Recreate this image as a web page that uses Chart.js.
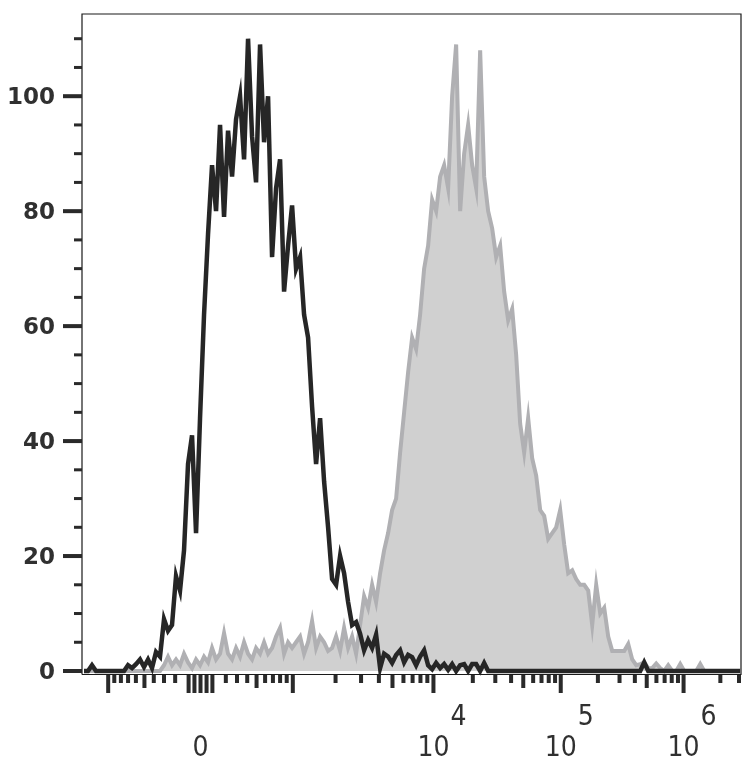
<!DOCTYPE html>
<html>
<head>
<meta charset="utf-8">
<script src="https://cdn.jsdelivr.net/npm/chart.js@4"></script>
<style>
  html, body { margin: 0; padding: 0; background: #ffffff; }
  #wrap { width: 756px; height: 773px; }
</style>
</head>
<body>
<div id="wrap"><canvas id="histChart" width="756" height="773"></canvas></div>
<script>
// Histogram bins on the display (biexponential) axis, in decades
const binStart = -0.955;
const binWidth = 0.0328;

// Unstained / isotype control (black outline)
const controlCounts = [
    0, 0, 1, 0, 0, 0, 0, 0, 0, 0, 0,
    1, 0.5, 1.2, 2, 0.7, 2, 0.5, 3.3, 2.5, 9,
    7, 8, 16.5, 14, 21, 36, 41, 24, 44, 62,
    76, 88, 80, 95, 79, 94, 86, 96, 100, 89,
    110, 93, 85, 109, 92, 100, 72, 84, 89, 66,
    74, 81, 70, 72, 62, 58, 46, 36, 44, 33,
    25, 16, 15, 20, 17, 12, 8, 8.5, 6.5, 3.6,
    5.4, 4, 6.3, 0.5, 3, 2.5, 1.4, 2.8, 3.6, 1.5,
    2.8, 2.4, 1, 2.5, 3.6, 1, 0.3, 1.4, 0.5, 1.2,
    0.2, 1.2, 0, 1, 1.2, 0, 1.2, 1.2, 0, 1.4,
    0,
    0, 0, 0, 0, 0, 0, 0, 0, 0, 0,
    0, 0, 0, 0, 0, 0, 0, 0, 0, 0,
    0, 0, 0, 0, 0, 0, 0, 0, 0, 0,
    0, 0, 0, 0, 0, 0, 0, 0,
    1.5,
    0, 0, 0, 0, 0, 0, 0, 0, 0, 0,
    0, 0, 0, 0, 0, 0, 0, 0, 0, 0,
    0, 0, 0, 0
];

// Stained sample (grey filled)
const stainedCounts = [
    0, 0, 0, 0, 0, 0, 0, 0, 0, 0,
    0, 0, 0, 0, 0, 0, 0, 0, 0, 0,
    1, 2.5, 1, 2, 1, 3, 1.5, 0.5, 2, 1,
    2.5, 1.5, 4, 2, 3, 6.6, 3, 2, 4, 2.5,
    5, 3, 2, 4, 3, 5, 3, 4, 6, 7.5,
    3, 5, 4, 5, 6, 3, 5, 8.7, 4, 6,
    5, 3.5, 4, 6, 3.5, 7.5, 4, 6, 3, 8,
    13, 11, 15, 12, 17, 21, 24, 28, 30, 38,
    45, 52, 58, 56, 62, 70, 74, 82, 80, 86,
    88, 84, 100, 109, 80, 90, 95, 88, 84, 108,
    86, 80, 77, 72, 74, 66, 61, 63, 55, 43,
    38, 44, 37, 34, 28, 27, 23, 24, 25, 28,
    22, 17, 17.5, 16, 15, 15, 14, 8, 15, 10,
    11, 6, 3.5, 3.5, 3.5, 3.5, 4.7, 2, 1, 1.2,
    1.5, 0.5, 0.5, 1.3, 0.5, 0, 1, 0, 0, 1.2,
    0, 0, 0, 0, 1.2, 0, 0, 0, 0, 0,
    0, 0, 0, 0, 0
];

// Axis ticks (raw fluorescence values)
const xLabelValues = [0, 1e4, 1e5, 1e6];
const xLabelExponents = ['', '4', '5', '6'];
const xMajorTicks = [-1000, -90, -45, 0, 45, 90, 1000, 1e4, 1e5, 1e6];
const xMediumTicks = [-500, 500, 5000, 5e4, 5e5];
const xMinorTicks = [
    -900, -800, -700, -600, -400, -300, -200,
    200, 300, 400, 600, 700, 800, 900,
    2000, 3000, 4000, 6000, 7000, 8000, 9000,
    2e4, 3e4, 4e4, 6e4, 7e4, 8e4, 9e4,
    2e5, 3e5, 4e5, 6e5, 7e5, 8e5, 9e5,
    2e6, 3e6
];
const yLabelValues = [0, 20, 40, 60, 80, 100];
const yMinorTicks = [5, 10, 15, 25, 30, 35, 45, 50, 55, 65, 70, 75, 85, 90, 95, 105, 110];

// Biexponential transform: raw value <-> display decades
const biexA = 109.5;
const biexB = 640;

function biexRaw(d) {
    const a = Math.abs(d);
    return Math.sign(d) * (biexA * (Math.pow(10, a) - 1) + biexB * a);
}

function toDisplay(v) {
    const target = Math.abs(v);
    let lo = 0, hi = 8;
    for (let i = 0; i < 60; i++) {
        const mid = (lo + hi) / 2;
        if (biexRaw(mid) < target) lo = mid; else hi = mid;
    }
    return Math.sign(v) * (lo + hi) / 2;
}

function toPoints(counts) {
    return counts.map((c, i) => ({ x: binStart + i * binWidth, y: c }));
}

const INK = '#2a2a2a';
const Y_FONT = 'bold 23px "DejaVu Sans", sans-serif';
const X_FONT = '28px "Liberation Sans Narrow", "DejaVu Sans Condensed", "Liberation Sans", sans-serif';

// Frame, ticks and labels drawn from the chart's own scales
const axesPlugin = {
    id: 'flowAxes',
    beforeDatasetsDraw(chart) {
        const { ctx, chartArea: a } = chart;
        ctx.save();
        ctx.strokeStyle = '#1a1a1a';
        ctx.lineWidth = 1.2;
        ctx.beginPath();
        ctx.moveTo(a.left, a.bottom + 3.5);
        ctx.lineTo(a.left, a.top);
        ctx.lineTo(a.right, a.top);
        ctx.lineTo(a.right, a.bottom + 3.5);
        ctx.lineTo(a.left, a.bottom + 3.5);
        ctx.stroke();
        ctx.restore();
    },
    afterDatasetsDraw(chart) {
        const { ctx, chartArea: a, scales } = chart;
        const xs = scales.x, ys = scales.y;
        ctx.save();
        ctx.fillStyle = INK;

        // y ticks
        yLabelValues.forEach(v => {
            const py = ys.getPixelForValue(v);
            ctx.fillRect(a.left - 19, py - 2, 19, 4);
        });
        yMinorTicks.forEach(v => {
            const py = ys.getPixelForValue(v);
            ctx.fillRect(a.left - 8, py - 1.5, 8, 3);
        });
        ctx.font = Y_FONT;
        ctx.fillStyle = '#303030';
        ctx.textAlign = 'right';
        ctx.textBaseline = 'middle';
        yLabelValues.forEach(v => {
            const py = ys.getPixelForValue(v);
            ctx.fillText(String(v), a.left - 27, py + 2);
        });

        // x ticks
        ctx.fillStyle = INK;
        const y0 = a.bottom + 4;
        const drawXTicks = (list, len) => {
            list.forEach(v => {
                const d = toDisplay(v);
                if (d < xs.min - 0.01 || d > xs.max + 0.02) return;
                const px = Math.min(xs.getPixelForValue(d), a.right - 2);
                ctx.fillRect(px - 2, y0, 4, len);
            });
        };
        drawXTicks(xMinorTicks, 8);
        drawXTicks(xMediumTicks, 13);
        drawXTicks(xMajorTicks, 18);

        // x labels: 0, 10^4, 10^5, 10^6
        ctx.fillStyle = '#303030';
        ctx.font = X_FONT;
        ctx.textBaseline = 'alphabetic';
        xLabelValues.forEach((v, i) => {
            const px = xs.getPixelForValue(toDisplay(v));
            const exp = xLabelExponents[i];
            const base = exp ? '10' : '0';
            ctx.textAlign = 'center';
            ctx.fillText(base, px, 756);
            if (exp) {
                const w = ctx.measureText(base).width;
                ctx.textAlign = 'left';
                ctx.fillText(exp, px + w / 2 + 1, 725);
            }
        });
        ctx.restore();
    }
};

new Chart(document.getElementById('histChart'), {
    type: 'line',
    data: {
        datasets: [
            {
                label: 'Control',
                data: toPoints(controlCounts),
                borderColor: '#262626',
                borderWidth: 4.5,
                fill: false,
                pointRadius: 0,
                tension: 0,
                order: 0,
                clip: false
            },
            {
                label: 'Stained',
                data: toPoints(stainedCounts),
                borderColor: '#b0b0b3',
                backgroundColor: '#d0d0d0',
                borderWidth: 4,
                fill: 'origin',
                pointRadius: 0,
                tension: 0,
                order: 1,
                clip: false
            }
        ]
    },
    options: {
        responsive: false,
        animation: false,
        layout: { padding: { left: 82, right: 15, top: 14, bottom: 102 } },
        plugins: {
            legend: { display: false },
            tooltip: { enabled: false }
        },
        scales: {
            x: { type: 'linear', min: -0.9713, max: 4.4303, display: false },
            y: { type: 'linear', min: 0, max: 114.3, display: false }
        }
    },
    plugins: [axesPlugin]
});
</script>
</body>
</html>
